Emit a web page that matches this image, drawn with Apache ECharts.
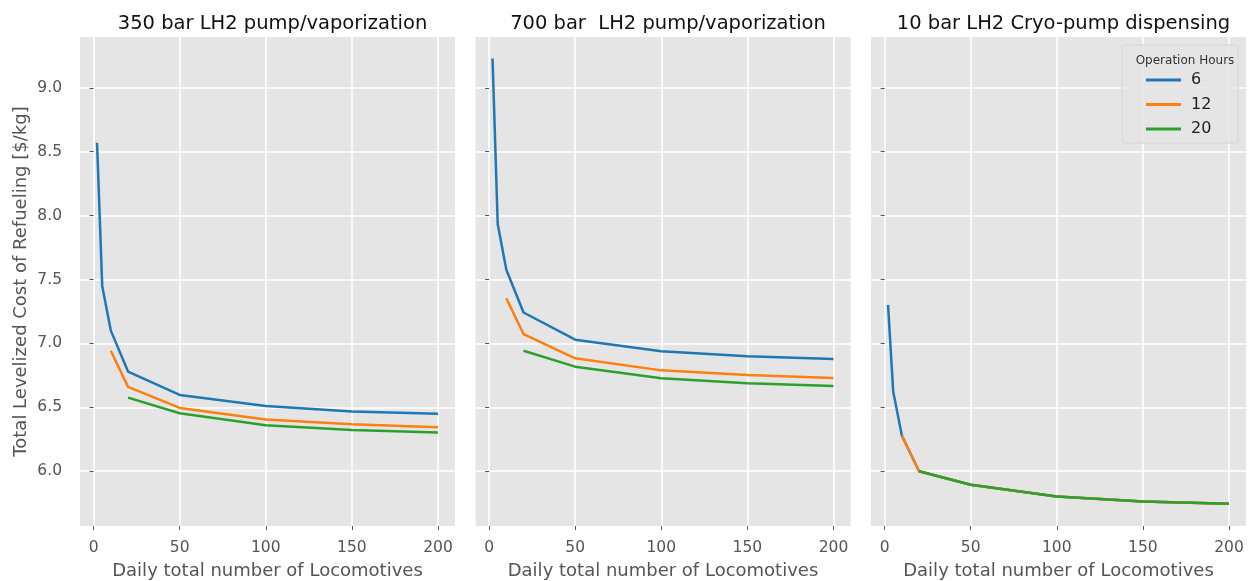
<!DOCTYPE html>
<html>
<head>
<meta charset="utf-8">
<script src="https://cdn.jsdelivr.net/npm/echarts@6/dist/echarts.min.js"></script>
<style>
  html, body { margin: 0; padding: 0; background: #fff; }
  #main { width: 1250px; height: 581px; }
</style>
</head>
<body>
<div id="main"></div>
<script>
// number of locomotives per day (x)
const locos = [2, 5, 10, 20, 50, 100, 150, 200];
const hours = ['6', '12', '20'];
const panelTitles = ['350 bar LH2 pump/vaporization', '700 bar  LH2 pump/vaporization', '10 bar LH2 Cryo-pump dispensing'];

// levelized cost [$/kg], null where no value
const p350_6  = [8.57, 7.45, 7.10, 6.78, 6.597, 6.51, 6.467, 6.449];
const p350_12 = [null, null, 6.943, 6.66, 6.495, 6.404, 6.367, 6.344];
const p350_20 = [null, null, null, 6.576, 6.453, 6.36, 6.323, 6.302];

const p700_6  = [9.23, 7.935, 7.576, 7.242, 7.029, 6.938, 6.90, 6.878];
const p700_12 = [null, null, 7.354, 7.073, 6.883, 6.789, 6.753, 6.73];
const p700_20 = [null, null, null, 6.943, 6.818, 6.727, 6.688, 6.667];

const p10_6  = [7.302, 6.623, 6.279, 6.0, 5.894, 5.802, 5.763, 5.745];
const p10_12 = [null, null, 6.279, 6.0, 5.894, 5.802, 5.763, 5.745];
const p10_20 = [null, null, null, 6.0, 5.894, 5.802, 5.763, 5.745];

const xTicks = [0, 50, 100, 150, 200];
const yTicks = [6.0, 6.5, 7.0, 7.5, 8.0, 8.5, 9.0];

const panels = [
  [p350_6, p350_12, p350_20],
  [p700_6, p700_12, p700_20],
  [p10_6, p10_12, p10_20]
];
const colors = ['#1f77b4', '#ff7f0e', '#2ca02c'];
const font = 'DejaVu Sans';
const lefts = [80, 475.5, 871];
const pw = 375;

const chart = echarts.init(document.getElementById('main'));

function pairs(vals) {
  const out = [];
  vals.forEach((v, i) => { if (v !== null) out.push([locos[i], v]); });
  return out;
}

const grids = [], xAxes = [], yAxes = [], series = [], titles = [];
panels.forEach((panel, p) => {
  grids.push({
    left: lefts[p], top: 37, width: pw, height: 489,
    outerBoundsMode: 'none', containLabel: false,
    show: true, backgroundColor: '#E5E5E5', borderWidth: 0
  });
  titles.push({
    text: panelTitles[p], left: lefts[p] + pw / 2, top: 9, textAlign: 'center',
    textStyle: { fontFamily: font, fontSize: 19.5, fontWeight: 'normal', color: '#111' }
  });
  xAxes.push({
    type: 'value', gridIndex: p, min: -7.9, max: 209.9,
    name: 'Daily total number of Locomotives', nameLocation: 'middle', nameGap: 36,
    nameTextStyle: { fontFamily: font, fontSize: 18, color: '#555' },
    axisLine: { show: false },
    axisTick: { show: true, length: 4, customValues: xTicks, lineStyle: { color: '#555' } },
    axisLabel: { customValues: xTicks, margin: 14, fontFamily: font, fontSize: 15.5, color: '#555' },
    splitLine: { show: true, lineStyle: { color: '#fff', width: 1.5 } }
  });
  yAxes.push({
    type: 'value', gridIndex: p, min: 5.571, max: 9.398,
    name: p === 0 ? 'Total Levelized Cost of Refueling [$/kg]' : '',
    nameLocation: 'middle', nameGap: 50,
    nameTextStyle: { fontFamily: font, fontSize: 18, color: '#555' },
    axisLine: { show: false },
    axisTick: { show: true, length: 4, customValues: yTicks, lineStyle: { color: '#555' } },
    axisLabel: {
      show: p === 0, customValues: yTicks, margin: 18,
      fontFamily: font, fontSize: 15.5, color: '#555',
      formatter: v => v.toFixed(1)
    },
    splitLine: { show: true, lineStyle: { color: '#fff', width: 1.5 } }
  });
  panel.forEach((vals, s) => {
    series.push({
      type: 'line', name: hours[s], xAxisIndex: p, yAxisIndex: p,
      data: pairs(vals), showSymbol: false, symbol: 'none',
      lineStyle: { color: colors[s], width: 2.5 }, itemStyle: { color: colors[s] },
      z: 3 + s
    });
  });
});

// legend heading
titles.push({
  text: 'Operation Hours', left: 1180, top: 50, textAlign: 'center', z: 30,
  textStyle: { fontFamily: font, fontSize: 12, fontWeight: 'normal', color: '#333' }
});

chart.setOption({
  animation: false,
  backgroundColor: '#fff',
  title: titles,
  grid: grids,
  xAxis: xAxes,
  yAxis: yAxes,
  series: series,
  legend: {
    data: hours, orient: 'vertical', left: 1141, top: 66,
    icon: 'rect', itemWidth: 35, itemHeight: 3, itemGap: 6.5,
    textStyle: { fontFamily: font, fontSize: 16, color: '#222', lineHeight: 18, padding: [0, 0, 0, 5] },
    z: 30
  },
  graphic: [{
    type: 'rect', z: 8,
    shape: { x: 1122, y: 45, width: 116, height: 98, r: 3 },
    style: { fill: 'rgba(229,229,229,0.85)', stroke: '#d6d6d6', lineWidth: 1 }
  }]
});
</script>
</body>
</html>
